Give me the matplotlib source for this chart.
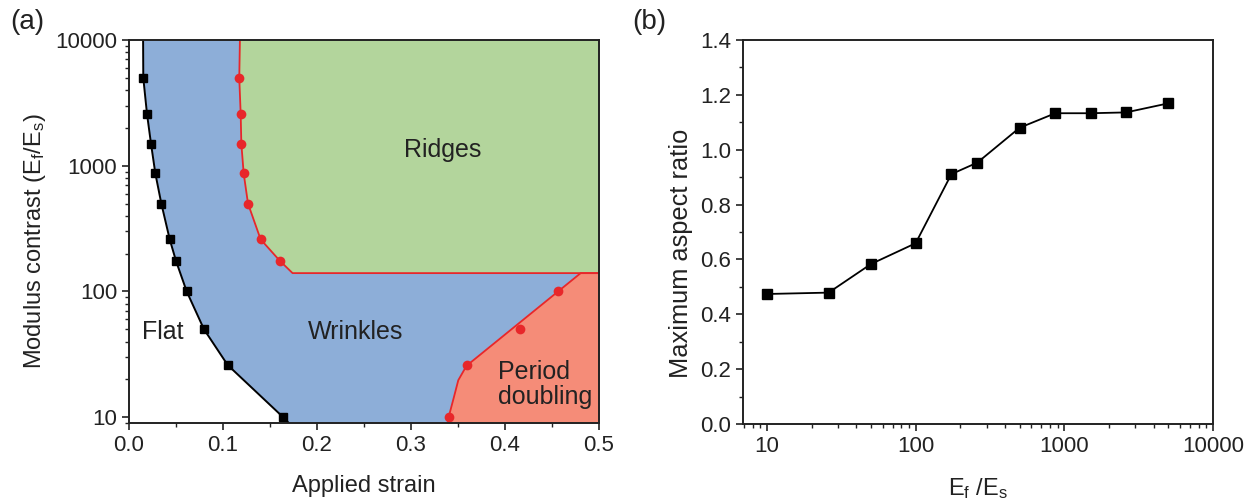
import matplotlib
matplotlib.use("Agg")
import matplotlib.pyplot as plt
from matplotlib.ticker import LogLocator, MultipleLocator, FixedLocator, NullFormatter

plt.rcParams['font.family'] = ['Liberation Sans', 'DejaVu Sans']
plt.rcParams['mathtext.default'] = 'regular'

# ---------------- data: panel (a) ----------------
# measured transition points (markers)
flat_strain = [0.0152, 0.0191, 0.0234, 0.0280, 0.0344, 0.0433, 0.0500, 0.0614, 0.0798, 0.105, 0.164]
flat_E      = [5000, 2600, 1500, 870, 500, 260, 175, 100, 50, 26, 10]
ridge_strain = [0.1173, 0.1188, 0.1195, 0.1220, 0.1266, 0.1400, 0.1606]
ridge_E      = [5000, 2600, 1500, 870, 500, 260, 175]
pd_strain = [0.340, 0.360, 0.416, 0.4564]
pd_E      = [10, 26, 50, 100]

# fitted boundary curves
flat_line_strain = [0.0150, 0.0152, 0.0191, 0.0234, 0.0280, 0.0344, 0.0433, 0.0500, 0.0614, 0.0798, 0.105, 0.164, 0.170]
flat_line_E      = [10000, 5000, 2600, 1500, 870, 500, 260, 175, 100, 50, 26, 10, 9]
ridge_line_strain = [0.1180, 0.1173, 0.1188, 0.1195, 0.1220, 0.1266, 0.1400, 0.1606, 0.174, 0.5]
ridge_line_E      = [10000, 5000, 2600, 1500, 870, 500, 260, 175, 140, 140]
pd_line_strain = [0.3393, 0.3400, 0.3457, 0.3503, 0.3574, 0.3600, 0.4805, 0.5]
pd_line_E      = [9, 10, 14.5, 19.7, 24.4, 26, 140, 140]

# ---------------- data: panel (b) ----------------
ratio_x = [10, 26, 50, 100, 174, 260, 500, 870, 1500, 2600, 5000]
ratio_y = [0.474, 0.479, 0.583, 0.659, 0.911, 0.953, 1.080, 1.133, 1.133, 1.136, 1.169]

blue = '#8DAED8'
green = '#B3D59C'
salmon = '#F58C78'
red = '#E8272A'
ink = '#222222'

fig = plt.figure(figsize=(12.56, 5.04), dpi=100)
ax1 = fig.add_axes([129/1256, 1-423/504, 470/1256, 383/504])
ax2 = fig.add_axes([743/1256, 1-424/504, 470/1256, 384/504])

ymin, ymax = 9, 10000
# blue wrinkles region (right of flat boundary)
ax1.fill_betweenx(flat_line_E, flat_line_strain, 0.5, color=blue, lw=0, zorder=1)
# green ridges region
gx = ridge_line_strain + [0.5]
gy = ridge_line_E + [ymax]
ax1.fill(gx, gy, color=green, lw=0, zorder=2)
# salmon period doubling region
sx = pd_line_strain + [0.5]
sy = pd_line_E + [ymin]
ax1.fill(sx, sy, color=salmon, lw=0, zorder=2)

ax1.plot(flat_line_strain, flat_line_E, color='black', lw=1.4, zorder=3)
ax1.plot(ridge_line_strain, ridge_line_E, color=red, lw=1.3, zorder=3)
ax1.plot(pd_line_strain, pd_line_E, color=red, lw=1.3, zorder=3)
ax1.plot(flat_strain, flat_E, 's', color='black', ms=6, zorder=4, clip_on=False)
ax1.plot(ridge_strain, ridge_E, 'o', color=red, ms=7, mec='none', zorder=4)
ax1.plot(pd_strain, pd_E, 'o', color=red, ms=7, mec='none', zorder=4, clip_on=False)

ax1.set_yscale('log')
ax1.set_xlim(0, 0.5)
ax1.set_ylim(ymin, ymax)
ax1.yaxis.set_major_locator(FixedLocator([10, 100, 1000, 10000]))
ax1.yaxis.set_minor_locator(LogLocator(base=10, subs=range(2, 10)))
ax1.yaxis.set_minor_formatter(NullFormatter())
ax1.set_yticklabels(['10', '100', '1000', '10000'])
ax1.xaxis.set_major_locator(MultipleLocator(0.1))
ax1.xaxis.set_minor_locator(MultipleLocator(0.05))
ax1.xaxis.set_major_formatter(plt.FuncFormatter(lambda v, p: f'{v:.1f}'))

fs_tick = 16
fs_lab = 17
for ax in (ax1, ax2):
    ax.tick_params(which='major', direction='out', length=5, width=1.2, labelsize=fs_tick, colors=ink, labelcolor=ink)
    ax.tick_params(which='minor', direction='out', length=3, width=1.0, colors=ink)
    ax.tick_params(top=False, right=False, which='both')
    for s in ax.spines.values():
        s.set_linewidth(1.4)
        s.set_color(ink)
        s.set_zorder(5)

ax1.set_xlabel('Applied strain', fontsize=fs_lab, labelpad=14, color=ink)
ax1.set_ylabel('Modulus contrast (E$_f$/E$_s$)', fontsize=fs_lab, color=ink)
ax1.yaxis.set_label_coords(-0.172, 0.475)

ax1.text(0.334, 1330, 'Ridges', fontsize=18, ha='center', va='center', color=ink, zorder=6)
ax1.text(0.2415, 48, 'Wrinkles', fontsize=18, ha='center', va='center', color=ink, zorder=6)
ax1.text(0.036, 48, 'Flat', fontsize=18, ha='center', va='center', color=ink, zorder=6)
ax1.text(0.3926, 18.3, 'Period\ndoubling', fontsize=18, ha='left', va='center',
         linespacing=1.05, color=ink, zorder=6)

# panel (b)
ax2.plot(ratio_x, ratio_y, '-s', color='black', lw=1.3, ms=6.5, zorder=4)
ax2.set_xscale('log')
ax2.set_xlim(6.9, 10000)
ax2.set_ylim(0, 1.4)
ax2.xaxis.set_major_locator(FixedLocator([10, 100, 1000, 10000]))
ax2.xaxis.set_minor_locator(LogLocator(base=10, subs=range(2, 10)))
ax2.xaxis.set_minor_formatter(NullFormatter())
ax2.set_xticklabels(['10', '100', '1000', '10000'])
ax2.yaxis.set_major_locator(MultipleLocator(0.2))
ax2.yaxis.set_minor_locator(MultipleLocator(0.1))
ax2.yaxis.set_major_formatter(plt.FuncFormatter(lambda v, p: f'{v:.1f}'))
ax2.set_xlabel('E$_f$ /E$_s$', fontsize=fs_lab, labelpad=14, color=ink)
ax2.set_ylabel('Maximum aspect ratio', fontsize=18.3, color=ink)
ax2.yaxis.set_label_coords(-0.106, 0.445)

fig.text(10/1256, 1-22/504, '(a)', fontsize=20, ha='left', va='center', color=ink)
fig.text(632/1256, 1-22/504, '(b)', fontsize=20, ha='left', va='center', color=ink)

fig.savefig('out.png', dpi=100)
